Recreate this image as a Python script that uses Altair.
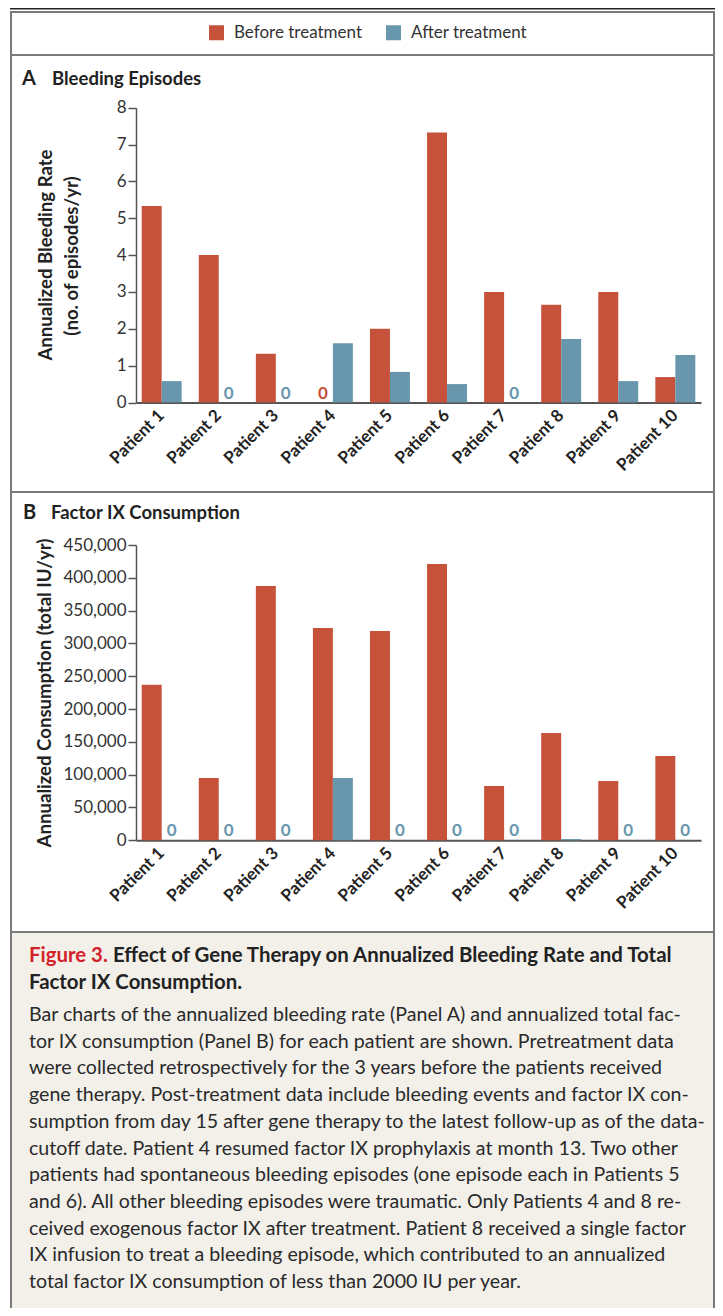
import altair as alt
import pandas as pd

# ---------------- data ----------------
patients = ["Patient 1", "Patient 2", "Patient 3", "Patient 4", "Patient 5",
            "Patient 6", "Patient 7", "Patient 8", "Patient 9", "Patient 10"]
series = ["Before treatment", "After treatment"]
colors = ["#c6523b", "#6896ad"]

bleed_before = [5.33, 4.0, 1.32, 0.0, 2.0, 7.33, 3.0, 2.65, 3.0, 0.69]
bleed_after = [0.58, 0.0, 0.0, 1.61, 0.83, 0.50, 0.0, 1.72, 0.58, 1.29]

cons_before = [237000, 95000, 387500, 323500, 319000, 421000, 82700, 163500, 90400, 128500]
cons_after = [0, 0, 0, 95000, 0, 0, 0, 1900, 0, 0]

ticks_a = [0, 1, 2, 3, 4, 5, 6, 7, 8]
ticks_b = [0, 50000, 100000, 150000, 200000, 250000, 300000, 350000, 400000, 450000]

title_a_letter = "A"
title_a = "Bleeding Episodes"
title_b_letter = "B"
title_b = "Factor IX Consumption"
ytitle_a = ["Annualized Bleeding Rate", "(no. of episodes/yr)"]
ytitle_b = "Annualized Consumption (total IU/yr)"

cap_fig = "Figure 3."
cap_title1 = "Effect of Gene Therapy on Annualized Bleeding Rate and Total"
cap_title2 = "Factor IX Consumption."
cap_lines = [
    "Bar charts of the annualized bleeding rate (Panel A) and annualized total fac-",
    "tor IX consumption (Panel B) for each patient are shown. Pretreatment data",
    "were collected retrospectively for the 3 years before the patients received",
    "gene therapy. Post-treatment data include bleeding events and factor IX con-",
    "sumption from day 15 after gene therapy to the latest follow-up as of the data-",
    "cutoff date. Patient 4 resumed factor IX prophylaxis at month 13. Two other",
    "patients had spontaneous bleeding episodes (one episode each in Patients 5",
    "and 6). All other bleeding episodes were traumatic. Only Patients 4 and 8 re-",
    "ceived exogenous factor IX after treatment. Patient 8 received a single factor",
    "IX infusion to treat a bleeding episode, which contributed to an annualized",
    "total factor IX consumption of less than 2000 IU per year.",
]


def long_df(before, after):
    rows = []
    for p, b, a in zip(patients, before, after):
        rows.append({"patient": p, "series": series[0], "value": b})
        rows.append({"patient": p, "series": series[1], "value": a})
    return pd.DataFrame(rows)


df_a = long_df(bleed_before, bleed_after)
df_b = long_df(cons_before, cons_after)

# ---------------- layout (page px minus 8px body margin) ----------------
OFF = 8
W, H = 707, 1300
FONT = "Lato"
X_RANGE = [136 - OFF, 701 - OFF]
YA_RANGE = [402.5 - OFF, 107.7 - OFF]
YB_RANGE = [840.3 - OFF, 545.0 - OFF]

one = pd.DataFrame({"k": [0]})

color_enc = alt.Color(
    "series:N",
    scale=alt.Scale(domain=series, range=colors),
    legend=alt.Legend(
        orient="none", legendX=200, legendY=16, direction="horizontal",
        title=None, symbolType="square", symbolSize=225, symbolStrokeWidth=0,
        labelFontSize=17, labelFont=FONT, labelColor="#333333",
        columnPadding=22, labelOffset=9, padding=0,
    ),
)


def x_enc(show_axis, y_axis_px):
    if show_axis:
        ax = alt.Axis(
            orient="bottom", offset=y_axis_px - H, title=None, ticks=False,
            domainColor="#555555", domainWidth=2, labelAngle=315,
            labelAlign="right", labelBaseline="middle", labelPadding=10,
            labelFont=FONT, labelFontSize=17, labelFontWeight="bold",
            labelColor="#222222", grid=False,
        )
    else:
        ax = None
    return alt.X(
        "patient:N", sort=patients,
        scale=alt.Scale(domain=patients, range=X_RANGE, paddingInner=0.3, paddingOuter=0.1),
        axis=ax,
    )


def y_enc(show_axis, rng, dom, ticks, fmt):
    if show_axis:
        ax = alt.Axis(
            orient="left", offset=-X_RANGE[0], title=None, values=ticks, format=fmt,
            grid=False, domainColor="#555555", domainWidth=1.5, tickColor="#555555",
            tickWidth=1.5, tickSize=8, labelPadding=2, labelFont=FONT,
            labelFontSize=17, labelColor="#333333",
        )
    else:
        ax = None
    return alt.Y("value:Q", scale=alt.Scale(domain=dom, range=rng, nice=False, zero=True), axis=ax)


xoff = alt.XOffset("series:N", sort=series, scale=alt.Scale(domain=series))


def panel(df, rng, dom, ticks, fmt):
    bars = alt.Chart(df).mark_bar().encode(
        x=x_enc(True, rng[0]),
        xOffset=xoff,
        y=y_enc(True, rng, dom, ticks, fmt),
        color=color_enc,
    )
    zeros = alt.Chart(df).transform_filter("datum.value == 0").mark_text(
        font=FONT, fontSize=17, fontWeight="bold", baseline="middle", dy=-9
    ).encode(
        x=x_enc(False, rng[0]),
        xOffset=xoff,
        y=y_enc(False, rng, dom, ticks, fmt),
        color=color_enc,
        text=alt.value("0"),
    )
    return [bars, zeros]


layers_a = panel(df_a, YA_RANGE, [0, 8], ticks_a, "d")
layers_b = panel(df_b, YB_RANGE, [0, 450000], ticks_b, ",d")

# ---------------- decorations ----------------
BOX_L, BOX_R, BOX_T = 11 - OFF, W - 1, 12 - OFF
caption_bg = alt.Chart(one).mark_rect(fill="#f3f0ea", strokeWidth=0).encode(
    x=alt.value(BOX_L), x2=alt.value(BOX_R), y=alt.value(932 - OFF), y2=alt.value(H + 10)
)
box = alt.Chart(one).mark_rect(fillOpacity=0, stroke="#7a7a7a", strokeWidth=2).encode(
    x=alt.value(BOX_L), x2=alt.value(BOX_R), y=alt.value(BOX_T), y2=alt.value(H + 10)
)
top_line = alt.Chart(one).mark_rule(color="#222222", strokeWidth=1.5).encode(
    x=alt.value(10 - OFF), x2=alt.value(W), y=alt.value(0.8)
)


def hline(ypage):
    return alt.Chart(one).mark_rule(color="#7a7a7a", strokeWidth=2).encode(
        x=alt.value(BOX_L), x2=alt.value(BOX_R), y=alt.value(ypage - OFF)
    )


def label(text, xp, yp, size, weight="bold", color="#222222", angle=0, align="left"):
    return alt.Chart(one).mark_text(
        font=FONT, fontSize=size, fontWeight=weight, color=color, angle=angle,
        align=align, baseline="middle",
    ).encode(x=alt.value(xp - OFF), y=alt.value(yp - OFF), text=alt.value(text))


texts = [
    label(title_a_letter, 22, 79, 20),
    label(title_a, 52, 79, 18.5),
    label(title_b_letter, 23, 513, 20),
    label(title_b, 51, 513, 18.5),
    label(ytitle_a[0], 46, 255, 18.6, angle=270, align="center"),
    label(ytitle_a[1], 72, 256, 18.6, angle=270, align="center"),
    label(ytitle_b, 45, 693, 18.6, angle=270, align="center"),
    label(cap_fig, 29, 956, 20.4, color="#d3222a"),
    label(cap_title1, 113, 956, 20.4),
    label(cap_title2, 29, 983, 20.4),
]

cap_df = pd.DataFrame({"line": cap_lines, "i": list(range(len(cap_lines)))})
caption = alt.Chart(cap_df).transform_calculate(
    ypos=f"{1015 - OFF} + datum.i * 26.7"
).mark_text(
    font=FONT, fontSize=19.6, color="#2a2a2a", align="left", baseline="middle"
).encode(
    x=alt.value(29 - OFF),
    y=alt.Y("ypos:Q", scale=None, axis=None),
    text="line:N",
)

chart = alt.layer(
    caption_bg, box, top_line, hline(55), hline(492), hline(932),
    *layers_a, *layers_b, *texts, caption,
).resolve_scale(
    x="independent", y="independent", xOffset="independent"
).properties(
    width=W, height=H, autosize=alt.AutoSizeParams(type="none"),
    padding={"left": 0, "top": 0, "right": 0, "bottom": 0},
    background="white",
).configure_view(stroke=None)

chart.save("out.html", embed_options={"renderer": "svg", "actions": False})
